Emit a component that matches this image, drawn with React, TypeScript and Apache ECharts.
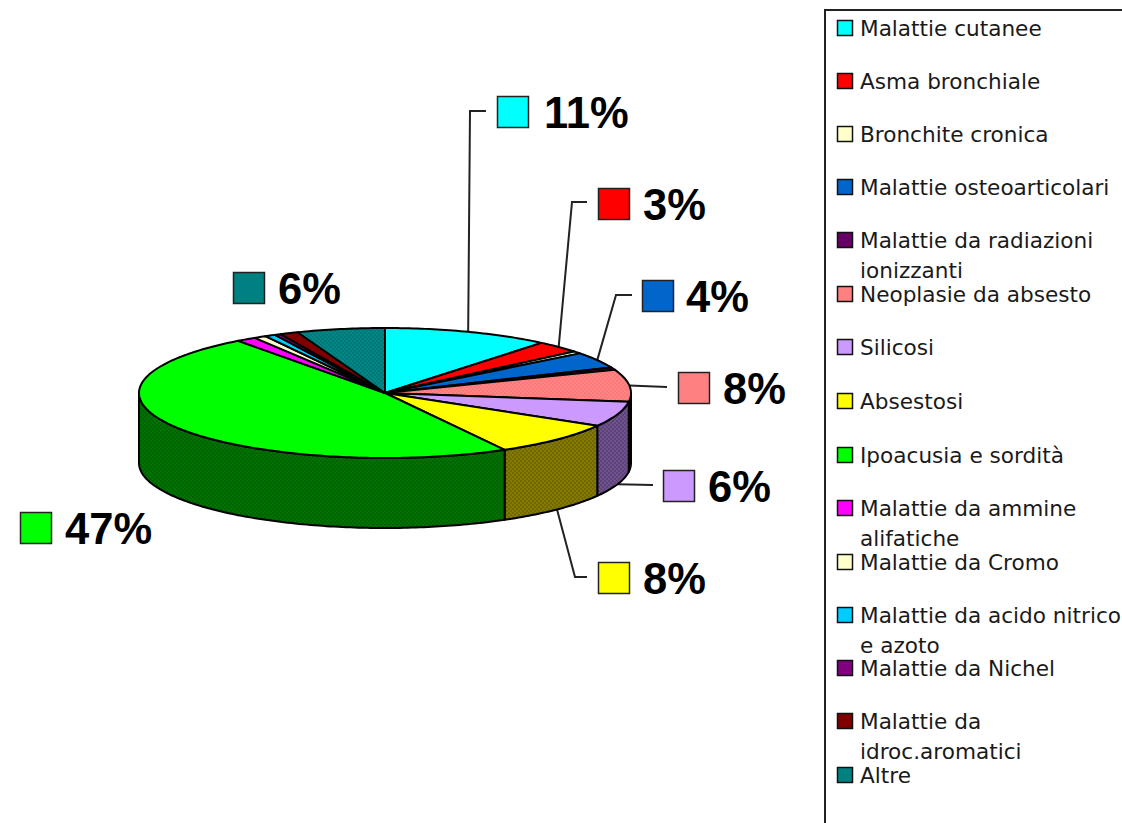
import React, { useEffect, useRef } from "react";
import * as echarts from "echarts";

const categories = [
  "Malattie cutanee",
  "Asma bronchiale",
  "Bronchite cronica",
  "Malattie osteoarticolari",
  "Malattie da radiazioni\nionizzanti",
  "Neoplasie da absesto",
  "Silicosi",
  "Absestosi",
  "Ipoacusia e sordità",
  "Malattie da ammine\nalifatiche",
  "Malattie da Cromo",
  "Malattie da acido nitrico\ne azoto",
  "Malattie da Nichel",
  "Malattie da\nidroc.aromatici",
  "Altre",
];
const values = [11, 3, 0.6, 4, 0.6, 8, 6.3, 8.5, 48, 1.3, 0.8, 0.7, 0.4, 1.2, 5.8];
const colors = [
  "#00ffff", "#ff0000", "#ffffcc", "#0066cc", "#660066", "#ff8080", "#cc99ff", "#ffff00",
  "#00ff00", "#ff00ff", "#ffffcc", "#00ccff", "#800080", "#800000", "#008080",
];
const sideColors: Record<number, string> = { 5: "#804040", 6: "#664d80", 7: "#808000", 8: "#006f00" };
const printedLabels = ["11%", "3%", "", "4%", "", "8%", "6%", "8%", "47%", "", "", "", "", "", "6%"];

const CX = 385, CY = 393, RX = 246, RY = 65, DEPTH = 70;
const total = values.reduce((a, b) => a + b, 0);
const cumulative: number[] = [];
values.reduce((a, v, i) => ((cumulative[i] = a), a + v), 0);
const pt = (t: number, dy = 0): number[] => [CX + RX * Math.sin(t), CY - RY * Math.cos(t) + dy];
const angle = (v: number) => (v / total) * Math.PI * 2;
const arc = (a: number, b: number, dy = 0): number[][] => {
  const n = Math.max(2, Math.ceil(Math.abs(b - a) * 60));
  const out: number[][] = [];
  for (let i = 0; i <= n; i++) out.push(pt(a + ((b - a) * i) / n, dy));
  return out;
};

// Two-tone check like the reference's dithered fills
function dither(a: string, b: string): any {
  const c = document.createElement("canvas");
  c.width = 4;
  c.height = 4;
  const x = c.getContext("2d")!;
  x.fillStyle = a;
  x.fillRect(0, 0, 4, 4);
  x.fillStyle = b;
  x.fillRect(0, 0, 2, 2);
  x.fillRect(2, 2, 2, 2);
  return { image: c, repeat: "repeat" };
}

const labelBoxes: Record<number, { key: number[]; textX: number; elbow?: number[][]; side?: boolean }> = {
  0: { key: [497, 96], textX: 544, elbow: [[470, 111], [486, 111]] },
  1: { key: [598, 188], textX: 643, elbow: [[572, 202], [587, 202]] },
  3: { key: [642, 280], textX: 686, elbow: [[616, 295], [632, 295]] },
  5: { key: [678, 372], textX: 723, elbow: [[667, 387]] },
  6: { key: [663, 470], textX: 708, elbow: [[653, 485]], side: true },
  7: { key: [598, 562], textX: 643, elbow: [[575, 577], [587, 577]], side: true },
  8: { key: [20, 512], textX: 65 },
  14: { key: [233, 272], textX: 278 },
};

const LEGEND_Y = [28, 81, 134, 187, 240, 294, 347, 401, 455, 508, 562, 615, 668, 721, 775];

function buildGraphic() {
  const g: any[] = [];
  g.push({
    type: "rect", shape: { x: 825, y: 10, width: 320, height: 840 },
    style: { fill: "#fff", stroke: "#222", lineWidth: 2 },
  });
  categories.forEach((name, i) => {
    const y = LEGEND_Y[i];
    g.push({
      type: "rect", shape: { x: 837.5, y: y - 7.5, width: 15, height: 15 },
      style: { fill: colors[i], stroke: "#111", lineWidth: 1.5 },
    });
    name.split("\n").forEach((line, k) => {
      g.push({
        type: "text", x: 860, y: y + k * 30,
        style: { text: line, font: "21.6px 'DejaVu Sans'", fill: "#1a1a1a", textVerticalAlign: "middle", textAlign: "left" },
      });
    });
  });
  Object.keys(labelBoxes).forEach((k) => {
    const i = +k;
    const b = labelBoxes[i];
    if (b.elbow) {
      const t = angle(cumulative[i] + values[i] / 2);
      const a = pt(t, b.side ? DEPTH : 0);
      g.push({
        type: "polyline", shape: { points: [a, ...b.elbow] },
        style: { fill: "none", stroke: "#222", lineWidth: 2 },
      });
    }
    g.push({
      type: "rect", shape: { x: b.key[0] + 0.5, y: b.key[1] + 0.5, width: 31, height: 31 },
      style: { fill: colors[i], stroke: "#222", lineWidth: 1.5 },
    });
    g.push({
      type: "text", x: b.textX, y: b.key[1] + 17,
      style: { text: printedLabels[i], font: "bold 43.5px 'Liberation Sans'", fill: "#000", textVerticalAlign: "middle", textAlign: "left" },
    });
  });
  return g;
}

function renderSlice(params: any) {
  const i = params.dataIndex;
  const a = angle(cumulative[i]);
  const b = angle(cumulative[i] + values[i]);
  const children: any[] = [];
  const sa = Math.max(a, Math.PI / 2), sb = Math.min(b, (3 * Math.PI) / 2);
  if (sb > sa) {
    const side: Record<number, any> = {
      5: dither("#804040", "#703838"),
      6: dither("#705290", "#5c4476"),
      7: dither("#847a00", "#726800"),
      8: dither("#007400", "#006200"),
    };
    children.push({
      type: "polygon",
      shape: { points: [...arc(sa, sb), ...arc(sb, sa, DEPTH)] },
      style: { fill: side[i] ?? sideColors[i] ?? colors[i], stroke: "#000", lineWidth: 2, lineJoin: "round" },
    });
  }
  const top: Record<number, any> = {
    5: dither("#ff8686", "#ff7878"),
    14: dither("#008787", "#007878"),
  };
  children.push({
    type: "polygon",
    shape: { points: [[CX, CY], ...arc(a, b)] },
    style: { fill: top[i] ?? colors[i], stroke: "#000", lineWidth: 2, lineJoin: "round" },
  });
  return { type: "group", children };
}

export default function App() {
  const ref = useRef<HTMLDivElement>(null);
  useEffect(() => {
    document.body.style.margin = "0";
    document.body.style.overflow = "hidden";
    const chart = echarts.init(ref.current!, undefined, { renderer: "svg" });
    chart.setOption({
      animation: false,
      backgroundColor: "#fff",
      series: [
        {
          type: "custom",
          coordinateSystem: "none",
          renderItem: renderSlice,
          data: categories.map((name, i) => ({ name, value: values[i] })),
          silent: true,
          z: 2,
        },
      ],
      graphic: { elements: buildGraphic() },
    });
    return () => chart.dispose();
  }, []);
  return <div ref={ref} style={{ width: 1122, height: 823 }} />;
}
